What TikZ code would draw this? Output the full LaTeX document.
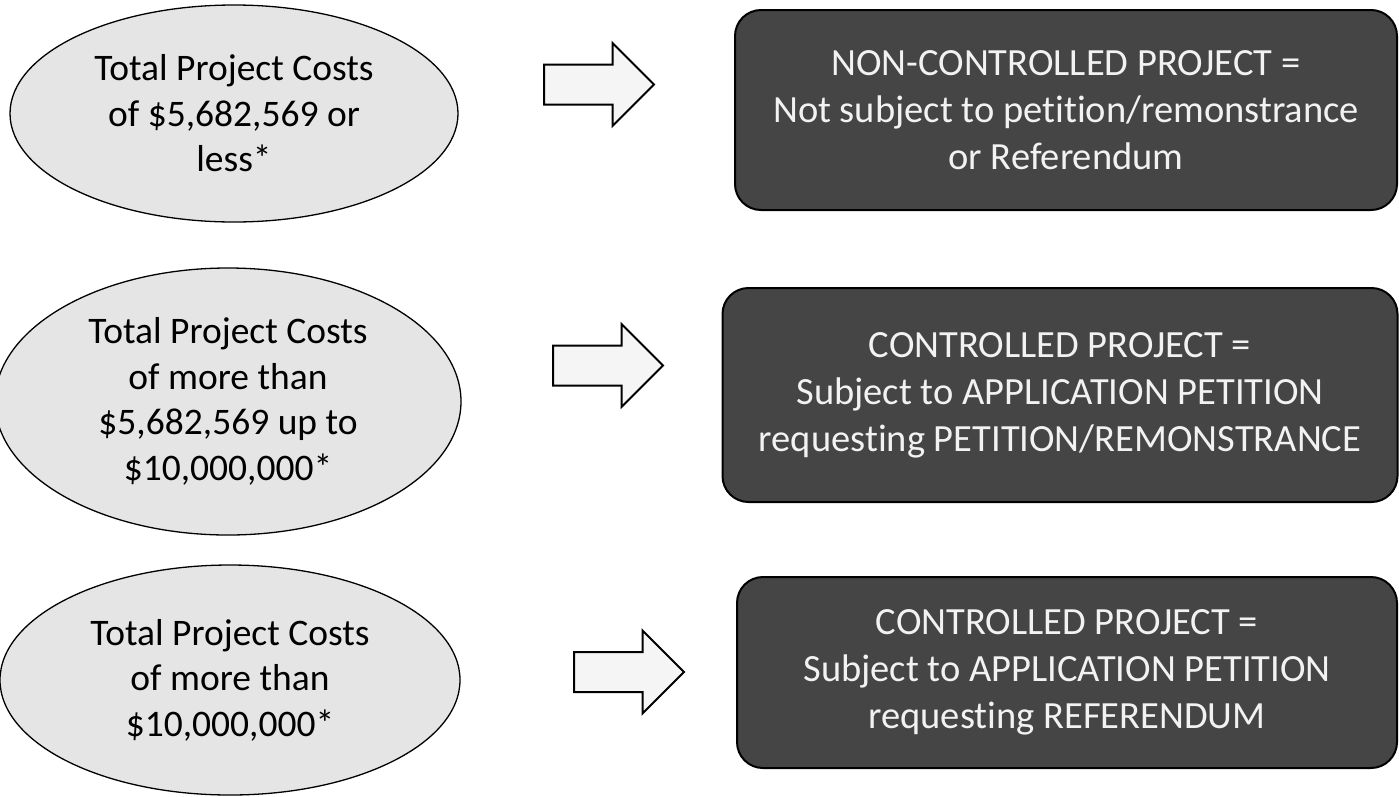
\documentclass[tikz,border=0pt]{standalone}
\usepackage{fontspec}
\setmainfont{Carlito}[Ligatures=NoCommon]
\usetikzlibrary{shapes.geometric,shapes.arrows}
\definecolor{ovalfill}{gray}{0.9}
\definecolor{boxfill}{gray}{0.27}
\definecolor{boxtext}{gray}{0.95}
\definecolor{arrowfill}{gray}{0.96}
\tikzset{
    %Define style for the cost ovals
    cost/.style={
           ellipse, draw, line width=1.3pt, fill=ovalfill,
           inner sep=0pt, align=center,
           font=\fontsize{37.5}{45.5}\selectfont},
    %Define style for the result boxes
    result/.style={
           rectangle, rounded corners=26pt, draw, line width=2pt,
           fill=boxfill, text=boxtext, align=center,
           font=\fontsize{38.5}{47}\selectfont},
    % Define block arrow style
    pointer/.style={
           single arrow, draw, line width=2pt, fill=arrowfill,
           inner xsep=0pt, inner ysep=19pt, anchor=tail,
           minimum height=110pt, minimum width=81pt,
           single arrow head extend=21.5pt}
}

\begin{document}
\begin{tikzpicture}[x=1pt,y=-1pt]
    \useasboundingbox (0,0) rectangle (1399,796);

    % cost ovals
    \node[cost, minimum width=448pt, minimum height=217pt] (low) at (234,113.5)
        {Total Project Costs\\of \$5,682,569 or\\less*};
    \node[cost, minimum width=466pt, minimum height=267pt] (mid) at (228,401.5)
        {Total Project Costs\\of more than\\\$5,682,569 up to\\\$10,000,000*};
    \node[cost, minimum width=460pt, minimum height=230pt] (high) at (230,680)
        {Total Project Costs\\of more than\\\$10,000,000*};

    % arrows
    \node[pointer] (lowarrow) at (543,84.5) {};
    \node[pointer] (midarrow) at (552,365.5) {};
    \node[pointer] (higharrow) at (573,672) {};

    % result boxes
    \node[result, minimum width=662pt, minimum height=200pt] (noncontrolled) at (1066,110)
        {NON-CONTROLLED PROJECT =\\Not subject to petition/remonstrance\\or Referendum};
    \node[result, minimum width=675pt, minimum height=214pt] (remonstrance) at (1060,395)
        {CONTROLLED PROJECT =\\Subject to APPLICATION PETITION\\requesting PETITION/REMONSTRANCE};
    \node[result, minimum width=660pt, minimum height=191pt] (referendum) at (1067,672.5)
        {CONTROLLED PROJECT =\\Subject to APPLICATION PETITION\\requesting REFERENDUM};
\end{tikzpicture}
\end{document}
